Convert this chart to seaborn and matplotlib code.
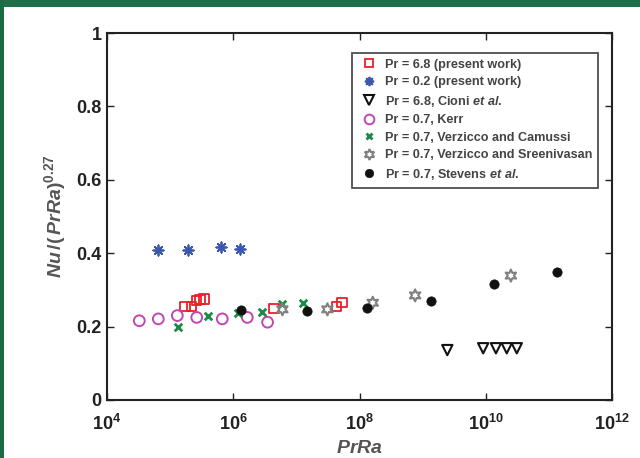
import matplotlib
matplotlib.use("Agg")
import matplotlib.pyplot as plt
import seaborn as sns
import numpy as np
import pandas as pd
from matplotlib.lines import Line2D
from matplotlib.patches import Rectangle

# ---- data ----
pr68_x = [1.72e5, 2.2e5, 2.64e5, 2.97e5, 3.44e5, 4.43e6, 4.35e7, 5.3e7]
pr68_y = [0.254, 0.254, 0.272, 0.274, 0.275, 0.250, 0.254, 0.265]
pr02_x = [6.4e4, 1.95e5, 6.4e5, 1.3e6]
pr02_y = [0.409, 0.409, 0.418, 0.411]
cioni_x = [2.46e9, 9.1e9, 1.45e10, 2.15e10, 3.1e10]
cioni_y = [0.136, 0.141, 0.141, 0.141, 0.141]
kerr_x = [3.25e4, 6.5e4, 1.3e5, 2.64e5, 6.7e5, 1.67e6, 3.5e6]
kerr_y = [0.216, 0.221, 0.230, 0.225, 0.221, 0.225, 0.212]
vc_x = [1.31e5, 3.94e5, 1.2e6, 2.9e6, 6.0e6, 1.26e7]
vc_y = [0.200, 0.230, 0.238, 0.240, 0.261, 0.263]
vs_x = [6.0e6, 3.1e7, 1.62e8, 7.6e8, 2.5e10]
vs_y = [0.247, 0.247, 0.265, 0.285, 0.339]
st_x = [1.31e6, 1.45e7, 1.3e8, 1.34e9, 1.35e10, 1.36e11]
st_y = [0.245, 0.243, 0.250, 0.271, 0.315, 0.348]

labels = [
    "Pr = 6.8 (present work)",
    "Pr = 0.2 (present work)",
    r"Pr = 6.8, Cioni $\mathit{et\ al.}$",
    "Pr = 0.7, Kerr",
    "Pr = 0.7, Verzicco and Camussi",
    "Pr = 0.7, Verzicco and Sreenivasan",
    r"Pr = 0.7, Stevens $\mathit{et\ al.}$",
]
xtick_vals = [1e4, 1e6, 1e8, 1e10, 1e12]
xtick_labels = [r"$\mathbf{10^{4}}$", r"$\mathbf{10^{6}}$", r"$\mathbf{10^{8}}$",
                r"$\mathbf{10^{10}}$", r"$\mathbf{10^{12}}$"]
ytick_vals = [0, 0.2, 0.4, 0.6, 0.8, 1]
ytick_labels = ["0", "0.2", "0.4", "0.6", "0.8", "1"]

sns.set_theme(style="white")
plt.rcParams["font.family"] = ["Liberation Sans", "DejaVu Sans"]
plt.rcParams["font.weight"] = "bold"
plt.rcParams["mathtext.fontset"] = "custom"
plt.rcParams["mathtext.rm"] = "Liberation Sans:bold"
plt.rcParams["mathtext.bf"] = "Liberation Sans:bold"
plt.rcParams["mathtext.it"] = "Liberation Sans:italic:bold"
plt.rcParams["mathtext.sf"] = "Liberation Sans:bold"

fig = plt.figure(figsize=(6.4, 4.58), dpi=100)
fig.patch.set_facecolor("white")
ax = fig.add_axes([107/640, 58/458, (612-107)/640, (400-33)/458])

# (x, y, marker, size, color, open, linewidth)
series = [
    (pr68_x, pr68_y, "s", 45, "#e8202a", True, 1.3),
    (pr02_x, pr02_y, (8, 2, 0), 55, "#3a56b0", False, 1.3),
    (cioni_x, cioni_y, "v", 55, "#111111", True, 1.5),
    (kerr_x, kerr_y, "o", 60, "#c048b4", True, 1.4),
    (vc_x, vc_y, "x", 30, "#1d8a4c", False, 2.0),
    (vs_x, vs_y, (6, 1, 0), 75, "#808080", True, 1.5),
    (st_x, st_y, "o", 45, "#111111", False, 0.5),
]

handles = []
for (xs, ys, mk, s, col, is_open, lw), lab in zip(series, labels):
    df = pd.DataFrame({"x": xs, "y": ys})
    sns.scatterplot(data=df, x="x", y="y", marker=mk, s=s, color=col,
                    edgecolor=col, linewidth=lw, ax=ax, zorder=3, legend=False)
    coll = ax.collections[-1]
    coll.set_edgecolor(col)
    coll.set_linewidths(lw)
    if is_open:
        coll.set_facecolor("none")
    else:
        coll.set_facecolor(col)
    handles.append(Line2D([], [], linestyle="none", marker=mk,
                          markersize=np.sqrt(s) * 0.9,
                          markerfacecolor="none" if is_open else col,
                          markeredgecolor=col, markeredgewidth=lw, label=lab))

ax.set_xscale("log")
ax.set_xlim(1e4, 1e12)
ax.set_ylim(0, 1)
ax.set_xticks(xtick_vals)
ax.set_xticklabels(xtick_labels)
ax.xaxis.set_minor_locator(matplotlib.ticker.NullLocator())
ax.set_yticks(ytick_vals)
ax.set_yticklabels(ytick_labels)
ax.tick_params(axis="both", direction="in", length=5, width=1, colors="#222222",
               labelsize=13, top=True, right=True, bottom=True, left=True)
ax.tick_params(axis="x", pad=10)
ax.tick_params(axis="y", pad=4)
for lab in ax.get_yticklabels():
    lab.set_fontweight("bold")
for sp in ax.spines.values():
    sp.set_visible(True)
    sp.set_color("#222222")
    sp.set_linewidth(1.5)

ax.set_xlabel(r"$\mathit{PrRa}$", fontsize=14, color="#555555", labelpad=4)
ax.set_ylabel(r"$\mathit{Nu}\,\mathrm{/(}\,\mathit{PrRa}\mathrm{)}^{\mathrm{0.27}}$",
              fontsize=14, color="#555555", labelpad=6)

leg = ax.legend(handles=handles, loc="upper right", bbox_to_anchor=(0.973, 0.946),
                fontsize=9.1, frameon=True, fancybox=False, shadow=False,
                labelspacing=0.44, handletextpad=0.4, borderpad=0.45,
                handlelength=1.8, borderaxespad=0)
leg.get_frame().set_edgecolor("#222222")
leg.get_frame().set_linewidth(1.3)
for t in leg.get_texts():
    t.set_color("#444444")
    t.set_fontweight("bold")

# green frame bands of the reference image
fig.patches.append(Rectangle((0, 1 - 7/458), 1, 7/458, transform=fig.transFigure,
                             facecolor="#1f6f4b", edgecolor="none", zorder=10))
fig.patches.append(Rectangle((0, 0), 4/640, 1, transform=fig.transFigure,
                             facecolor="#1b6b45", edgecolor="none", zorder=10))

fig.savefig("out.png", dpi=100)
